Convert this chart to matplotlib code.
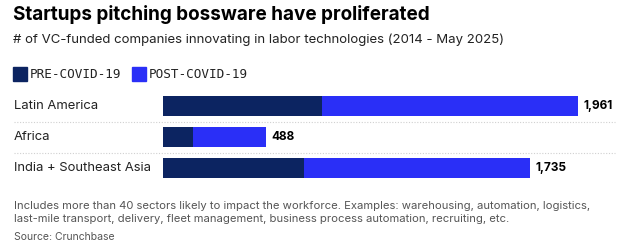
import matplotlib.pyplot as plt
from matplotlib.lines import Line2D
from matplotlib.patches import Rectangle

regions = ['Latin America', 'Africa', 'India + Southeast Asia']
pre_covid = [750, 143, 666]
totals = [1961, 488, 1735]
post_covid = [t - p for t, p in zip(totals, pre_covid)]

C_PRE = '#0c2461'
C_POST = '#2a2ff7'
W, H = 623, 252

plt.rcParams['font.family'] = ['Inter', 'DejaVu Sans']

fig = plt.figure(figsize=(W / 100, H / 100), dpi=100)


def fx(px):
    return px / W


def fy(py):
    return 1 - py / H


fig.text(fx(13), fy(15), 'Startups pitching bossware have proliferated',
         fontsize=13.6, fontweight='bold', va='center', ha='left')
fig.text(fx(13), fy(40), '# of VC-funded companies innovating in labor technologies (2014 - May 2025)',
         fontsize=9.5, va='center', ha='left', color='#222222')

# legend
for x0, col, lab in [(13, C_PRE, 'PRE-COVID-19'), (132, C_POST, 'POST-COVID-19')]:
    fig.add_artist(Rectangle((fx(x0), fy(81)), fx(14), 14 / H, color=col,
                             transform=fig.transFigure))
    fig.text(fx(x0 + 17), fy(74), lab, fontsize=9.1, family='DejaVu Sans Mono',
             va='center', ha='left', color='#222222')

ax = fig.add_axes([fx(163), fy(183.5), fx(578 - 163), 93 / H])
ypos = list(range(len(regions)))
ax.barh(ypos, pre_covid, height=0.66, color=C_PRE)
ax.barh(ypos, post_covid, left=pre_covid, height=0.66, color=C_POST)
ax.set_xlim(0, 1961)
ax.set_ylim(2.5, -0.5)
ax.axis('off')

for y, t, name in zip(ypos, totals, regions):
    ax.annotate(f'{t:,}', (t, y), xytext=(4, 0), textcoords='offset points',
                va='center', ha='left', fontsize=8.5, fontweight='bold', annotation_clip=False)
    fig.text(fx(14), fy(106 + 31 * y), name, fontsize=9.4, va='center', ha='left', color='#222222')

for py in [121.5, 152.5]:
    fig.add_artist(Line2D([fx(14), fx(615)], [fy(py), fy(py)], color='#d0d0d0',
                          linestyle=(0, (1, 1.5)), linewidth=0.8, transform=fig.transFigure))

fig.text(fx(14), fy(206), 'Includes more than 40 sectors likely to impact the workforce. Examples: warehousing, automation, logistics,',
         fontsize=8.1, va='center', ha='left', color='#555555')
fig.text(fx(14), fy(219), 'last-mile transport, delivery, fleet management, business process automation, recruiting, etc.',
         fontsize=8.1, va='center', ha='left', color='#555555')
fig.text(fx(14), fy(237), 'Source: Crunchbase', fontsize=7.5, va='center', ha='left', color='#555555')

fig.savefig('out.png', dpi=100)
